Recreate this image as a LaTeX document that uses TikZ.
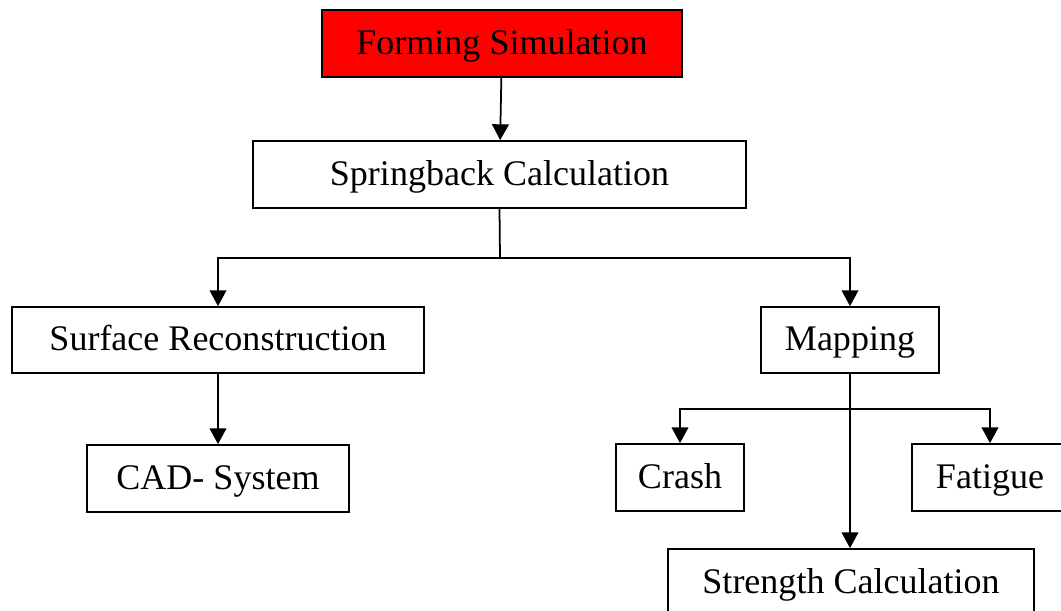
\documentclass[tikz,border=0pt]{standalone}
\usepackage{fontspec}
\setmainfont{Liberation Serif}
\usetikzlibrary{positioning,arrows.meta}
\definecolor{formred}{RGB}{255,0,0}

\begin{document}
\begin{tikzpicture}[x=0.02cm, y=-0.02cm, line width=1pt,
            box/.style ={rectangle, draw=black, fill=white, text=black, inner sep=0pt,
            text height=14pt, text depth=2pt,
            minimum height=1.34cm, font=\fontsize{20.5}{25}\selectfont},
            arr/.style ={-{Triangle[length=9pt,width=9.5pt]}}]

        \useasboundingbox (0,0) rectangle (1061,610);
        \clip (0,0) rectangle (1061,610);

        %\node [estilo] (nombre) at (x,y) {texto};

        \node[box, fill=formred, minimum width=7.2cm] (form) at (502, 43.5) {Forming Simulation};
        \node[box, minimum width=9.86cm] (spring) at (499.5, 174.5) {Springback Calculation};
        \node[box, minimum width=8.24cm, minimum height=1.32cm] (surf) at (218, 340) {Surface Reconstruction};
        \node[box, minimum width=3.56cm, minimum height=1.32cm] (map) at (850, 340) {Mapping};
        \node[box, minimum width=5.24cm] (cad) at (218, 478.5) {CAD- System};
        \node[box, minimum width=2.56cm] (crash) at (680, 477.5) {Crash};
        \node[box, minimum width=3.12cm] (fat) at (990, 477.5) {Fatigue};
        \node[box, minimum width=7.32cm] (strength) at (851, 582.5) {Strength Calculation};

        \coordinate (sj) at (500, 258);
        \coordinate (mj) at (850, 409);

        \path (form) edge [arr] (spring);

        \draw (spring.south) -- (sj);
        \draw[arr] (sj) -| (surf.north);
        \draw[arr] (sj) -| (map.north);

        \draw[arr] (surf.south) -- (cad.north);

        \draw[arr] (map.south) -- (map.south |- strength.north);
        \draw[arr] (mj) -| (crash.north);
        \draw[arr] (mj) -| (fat.north);

    \end{tikzpicture}
\end{document}
